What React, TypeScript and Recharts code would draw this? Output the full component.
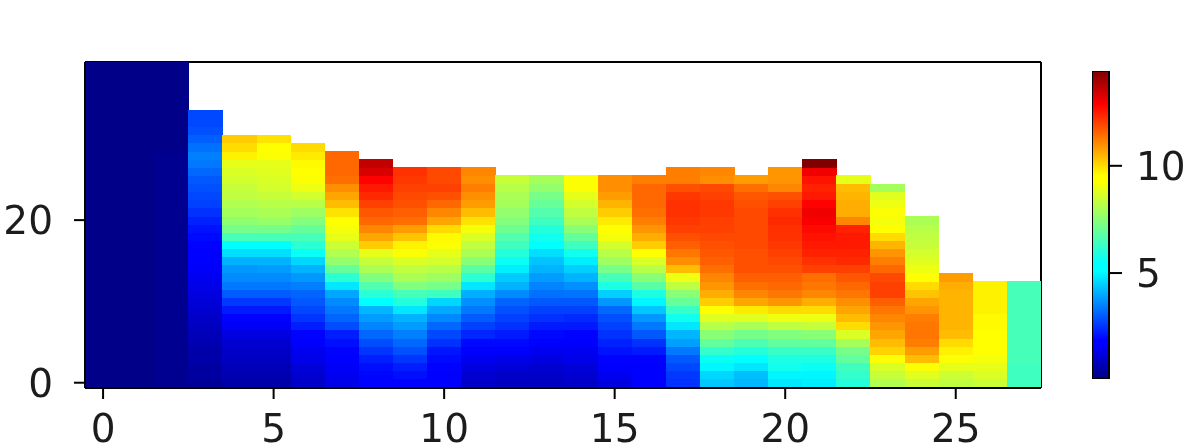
import { Bar, BarChart, ReferenceLine, Scatter, ScatterChart, XAxis, YAxis } from "recharts";

const xTicks = [0, 5, 10, 15, 20, 25];
const yTicks = [0, 20];
const barTicks = [5, 10];
const valueMin = 0.1;
const valueMax = 14.4;

// one list per column, row 0 first; a column stops where the white starts
const col0 = [0.2,0.2,0.2,0.2,0.2,0.2,0.2,0.2,0.2,0.2,0.2,0.2,0.2,0.2,0.2,0.2,0.2,0.2,0.2,0.2,0.2,0.2,0.2,0.2,0.2,0.2,0.2,0.2,0.2,0.2,0.2,0.2,0.2,0.2,0.2,0.2,0.2,0.2,0.2,0.2];
const col1 = [0.2,0.2,0.2,0.2,0.2,0.2,0.2,0.2,0.2,0.2,0.2,0.2,0.2,0.2,0.2,0.2,0.2,0.2,0.2,0.2,0.2,0.2,0.2,0.2,0.2,0.2,0.2,0.2,0.2,0.2,0.2,0.2,0.2,0.2,0.2,0.2,0.2,0.2,0.2,0.2];
const col2 = [0.3,0.3,0.3,0.3,0.3,0.3,0.3,0.3,0.3,0.3,0.3,0.3,0.3,0.3,0.3,0.3,0.3,0.3,0.3,0.3,0.3,0.3,0.3,0.3,0.3,0.3,0.3,0.3,0.3,0.2,0.2,0.2,0.2,0.2,0.2,0.2,0.2,0.2,0.2,0.2];
const col3 = [0.4,0.5,0.5,0.6,0.6,0.7,0.8,0.9,1,1.1,1.2,1.3,1.4,1.5,1.6,1.7,1.8,1.9,2,2.1,2.3,2.5,2.7,2.8,2.9,3,3.2,3.4,3.5,3.3,3.1,2.9,2.8,2.8];
const col4 = [0.6,0.7,0.8,0.9,1,1.1,1.3,1.6,1.9,2.2,2.6,3.05,3.4,3.65,3.8,4.15,4.7,5.4,6.5,7.2,7.6,7.9,8.1,8.3,8.4,8.6,8.7,8.9,9.7,10,10.2];
const col5 = [0.6,0.7,0.8,0.9,1,1.1,1.3,1.6,1.9,2.2,2.6,3.05,3.4,3.65,3.85,4.15,4.7,5.4,6.5,7.2,7.7,8,8.2,8.4,8.6,8.7,8.8,8.9,9.2,9.5,9.9];
const col6 = [1,1.1,1.2,1.4,1.5,1.7,1.9,2.25,2.55,2.8,3,3.15,3.5,3.8,4.15,4.6,5.6,6.1,6.5,6.95,7.4,7.8,8.2,8.6,9,9.2,9.4,9.6,9.8,10];
const col7 = [1.4,1.5,1.6,1.7,1.9,2.05,2.25,2.85,3.15,3.4,3.65,4,4.8,6.1,6.95,7.65,8.1,8.5,8.9,9.1,9.4,9.9,10.4,10.7,11,11.4,11.5,11.5,11.5];
const col8 = [1.9,1.95,2.05,2.25,2.55,2.85,3.2,3.55,3.85,4.2,5.2,6.1,6.7,7.4,8,8.4,8.9,10.2,10.7,11.1,11.5,11.7,12,12.3,12.5,12.8,13.3,13.6];
const col9 = [1.9,2.05,2.25,2.55,2.9,3.2,3.5,3.85,4.15,4.8,6,6.5,7.4,8,8.3,8.7,9.2,9.7,10.3,10.8,11.4,11.6,11.8,11.9,12,12.1,12.2];
const col10 = [1.7,1.8,1.9,2,2.15,2.5,2.8,3.2,3.6,4.03,4.6,6.4,7.25,7.8,8.2,8.6,8.9,9.2,9.6,10,10.7,11.1,11.5,11.8,12,11.9,11.9];
const col11 = [1,1.1,1.3,1.5,1.7,1.97,2.35,2.7,3.05,3.4,3.7,4.1,4.8,6.1,6.8,7.5,8,8.3,8.7,9.1,9.9,10.4,10.8,11,11.2,11,11.1];
const col12 = [0.9,1,1.2,1.4,1.7,1.97,2.2,2.5,2.7,2.9,3.15,3.65,4.15,4.45,4.9,5.6,6,6.4,6.7,7.1,7.4,7.65,7.9,8,8.2,8.4];
const col13 = [0.9,1,1.1,1.3,1.5,1.7,1.97,2.2,2.5,2.7,3,3.3,3.55,3.85,4.15,4.35,4.7,5.2,5.7,6,6.4,6.7,7,7.25,7.65,7.9];
const col14 = [1,1.1,1.2,1.4,1.5,1.7,1.9,2.2,2.4,2.7,3,3.35,3.7,4.15,4.5,4.9,5.7,6.4,6.95,7.5,8,8.3,8.6,8.9,9.2,9.2];
const col15 = [1.3,1.5,1.7,1.9,2.1,2.3,2.5,2.7,2.9,3.2,3.8,4.5,5.9,6.5,7.25,7.8,8.2,8.6,9.1,9.4,9.8,10.2,10.5,10.8,11,11];
const col16 = [1.8,1.8,1.8,1.9,2.2,2.5,3,3.4,3.8,4.4,5,5.9,6.8,7.5,8.2,8.7,9.5,10.2,10.6,10.9,11.2,11.4,11.5,11.5,11.5,11.2];
const col17 = [2.5,2.6,2.8,3,3.4,3.9,4.2,4.8,5.7,6.3,7,7.5,8.3,9,10.4,11,11.3,11.6,11.8,12,12.1,12.2,12.2,12.1,11.8,11.2,11.2];
const col18 = [4.4,4.6,5,5.6,6.2,6.9,7.5,8.2,8.8,9.4,10.2,10.6,10.9,11.1,11.4,11.6,11.7,11.8,11.9,12,12,12.1,12.1,12,11.9,11,11.1];
const col19 = [4.2,4.3,4.8,5.4,6,6.6,7.2,8,8.8,9.8,10.7,11.1,11.4,11.6,11.8,11.8,11.8,11.9,11.9,11.9,11.9,11.9,11.8,11.7,11.4,10.8];
const col20 = [4.8,5,5.7,5.9,6.3,6.9,7.4,8.3,9,10,10.9,11.3,11.5,11.6,11.8,11.9,12,12.1,12.2,12.2,12.3,12.2,12,11.8,11.1,10.9,10.9];
const col21 = [4.9,5,5.6,5.9,6.3,6.9,7.5,8.4,9,10,10.6,11.1,11.3,11.4,12,12.2,12.4,12.5,12.6,12.7,12.9,13,12.8,12.5,12.4,12.6,13,14.4];
const col22 = [6,6.2,6.4,6.9,7.2,7.9,8.7,10,10.4,10.7,11,11.3,11.5,11.7,12,12.3,12.4,12.5,12.5,12.4,11.1,10.6,10.6,10.5,10.4,8.9];
const col23 = [8.1,8.4,8.7,9.2,10.1,10.4,10.7,10.9,11.1,11.3,11.6,12,12,11.9,11.5,11.2,10.9,10.5,10,9.5,9.1,9.2,9,8.8,7.9];
const col24 = [8.5,8.8,9.2,10.4,10.8,11.2,11.3,11.3,11.2,10.9,10.7,10.3,10,9.4,9,8.8,8.6,8.4,8.3,8.2,8];
const col25 = [8.3,8.5,8.9,9.2,9.7,10,10.4,10.5,10.5,10.5,10.5,10.5,10.6,10.8];
const col26 = [8.5,8.7,8.9,9.1,9.3,9.4,9.5,9.6,9.6,9.7,9.7,9.7,9.7];
const col27 = [6.4,6.4,6.4,6.5,6.5,6.5,6.5,6.5,6.5,6.5,6.5,6.5,6.5];

const columns = [col0, col1, col2, col3, col4, col5, col6, col7, col8, col9, col10, col11, col12, col13, col14, col15, col16, col17, col18, col19, col20, col21, col22, col23, col24, col25, col26, col27];

const cells = columns.flatMap((col, x) => col.map((v, y) => ({ x, y, v })));

// jet colormap anchors, same as matplotlib
const jetStops: [number, number, number, number][] = [
  [0, 0, 0, 128],
  [0.11, 0, 0, 255],
  [0.125, 0, 0, 255],
  [0.35, 0, 255, 255],
  [0.375, 0, 255, 255],
  [0.64, 255, 255, 0],
  [0.66, 255, 255, 0],
  [0.89, 255, 0, 0],
  [1, 128, 0, 0],
];

function jet(v: number) {
  const t = Math.min(1, Math.max(0, (v - valueMin) / (valueMax - valueMin)));
  let i = 0;
  while (i < jetStops.length - 2 && t > jetStops[i + 1][0]) i++;
  const a = jetStops[i];
  const b = jetStops[i + 1];
  const k = (t - a[0]) / (b[0] - a[0]);
  const c = [1, 2, 3].map((n) => Math.round(a[n] + (b[n] - a[n]) * k));
  return `rgb(${c[0]},${c[1]},${c[2]})`;
}

const CELL_W = 956 / 28.03;
const CELL_H = 326 / 40.1;

// Scatter hands us the scaled centre of each cell
function HeatCell(props: any) {
  const { cx, cy, payload } = props;
  return (
    <rect
      x={cx - CELL_W / 2}
      y={cy - CELL_H / 2}
      width={CELL_W + 0.5}
      height={CELL_H + 0.5}
      fill={jet(payload.v)}
      shapeRendering="crispEdges"
    />
  );
}

const tickStyle = { fontSize: 39, fill: "#1c1c1c", fontFamily: "DejaVu Sans" };
const lineStyle = { stroke: "#000", strokeWidth: 2 };

export default function App() {
  return (
    <div style={{ position: "fixed", left: 0, top: 0, width: 1196, height: 448, background: "#fff", overflow: "hidden", filter: "blur(0.5px)" }}>
      <div style={{ position: "absolute", left: 0, top: 0 }}>
        <ScatterChart width={1060} height={448} margin={{ top: 62, right: 19, bottom: 0, left: 0 }}>
          <XAxis
            type="number"
            dataKey="x"
            domain={[-0.53, 27.5]}
            ticks={xTicks}
            interval={0}
            height={60}
            tickSize={11}
            tickMargin={15}
            tick={tickStyle}
            axisLine={lineStyle}
            tickLine={lineStyle}
            allowDataOverflow
          />
          <YAxis
            type="number"
            dataKey="y"
            domain={[-0.65, 39.45]}
            ticks={yTicks}
            interval={0}
            width={85}
            tickSize={11}
            tickMargin={21}
            tick={tickStyle}
            axisLine={lineStyle}
            tickLine={lineStyle}
            allowDataOverflow
          />
          <Scatter data={cells} shape={HeatCell} isAnimationActive={false} />
          <ReferenceLine x={27.5} stroke="#000" strokeWidth={2} />
          <ReferenceLine y={39.45} stroke="#000" strokeWidth={2} />
        </ScatterChart>
      </div>
      <div style={{ position: "absolute", left: 1092, top: 0 }}>
        <BarChart
          width={104}
          height={448}
          data={[{ name: "scale", range: [0.06, 14.42] }]}
          margin={{ top: 71, right: 0, bottom: 69, left: 0 }}
          barCategoryGap={0}
        >
          <defs>
            <linearGradient id="jetBar" x1="0" y1="1" x2="0" y2="0">
              {jetStops.map((s) => (
                <stop key={s[0]} offset={s[0]} stopColor={`rgb(${s[1]},${s[2]},${s[3]})`} />
              ))}
            </linearGradient>
          </defs>
          <XAxis dataKey="name" hide />
          <YAxis
            orientation="right"
            type="number"
            domain={[0.06, 14.42]}
            ticks={barTicks}
            interval={0}
            width={87}
            tickSize={13}
            tickMargin={14}
            tick={tickStyle}
            axisLine={false}
            tickLine={lineStyle}
            allowDataOverflow
          />
          <Bar dataKey="range" fill="url(#jetBar)" stroke="#000" strokeWidth={2} isAnimationActive={false} />
        </BarChart>
      </div>
    </div>
  );
}
